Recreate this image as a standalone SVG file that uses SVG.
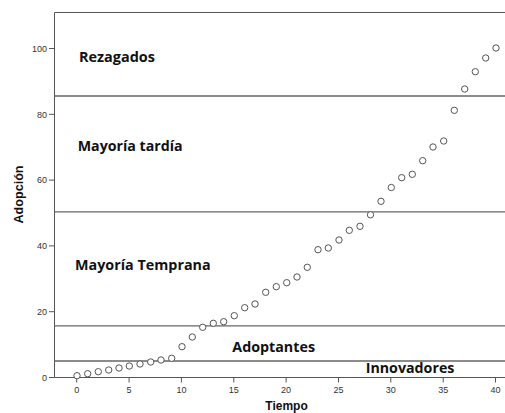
<svg xmlns="http://www.w3.org/2000/svg" width="505" height="413" viewBox="0 0 505 413">
<style>
.ax{stroke:#555;stroke-width:1;fill:none}
.band{stroke:#666;stroke-width:1.3;fill:none}
.tk{font-family:"Liberation Sans",Arial,sans-serif;font-size:9px;fill:#333}
.ttl{font-family:"Liberation Sans",Arial,sans-serif;font-size:12px;font-weight:bold;fill:#111}
.lbl{font-family:"Open Sans","Liberation Sans",sans-serif;font-size:14.8px;font-weight:bold;fill:#111}
.pt{fill:#fff;stroke:#555;stroke-width:1}
</style>
<rect x="0" y="0" width="505" height="413" fill="#fff"/>
<g id="axes">
<path class="ax" d="M54.5,12.5 H505 M54.5,12.5 V377.5 H505"/>
<path class="ax" d="M49,377.5H54.5 M49,311.7H54.5 M49,245.9H54.5 M49,180.1H54.5 M49,114.3H54.5 M49,48.5H54.5"/>
<path class="ax" d="M76.7,377.5V382.5 M129.1,377.5V382.5 M181.4,377.5V382.5 M233.8,377.5V382.5 M286.1,377.5V382.5 M338.5,377.5V382.5 M390.8,377.5V382.5 M443.2,377.5V382.5 M495.5,377.5V382.5"/>
<g class="tk" text-anchor="end">
<text x="47" y="380.7">0</text>
<text x="47" y="314.9">20</text>
<text x="47" y="249.1">40</text>
<text x="47" y="183.3">60</text>
<text x="47" y="117.5">80</text>
<text x="47" y="51.7">100</text>
</g>
<g class="tk" text-anchor="middle">
<text x="76.7" y="392.5">0</text>
<text x="129.1" y="392.5">5</text>
<text x="181.4" y="392.5">10</text>
<text x="233.8" y="392.5">15</text>
<text x="286.1" y="392.5">20</text>
<text x="338.5" y="392.5">25</text>
<text x="390.8" y="392.5">30</text>
<text x="443.2" y="392.5">35</text>
<text x="495.5" y="392.5">40</text>
</g>
<text class="ttl" x="286.5" y="410" text-anchor="middle">Tiempo</text>
<text class="ttl" transform="translate(23.2,194.5) rotate(-90)" text-anchor="middle" textLength="58" lengthAdjust="spacingAndGlyphs">Adopción</text>
</g>
<g id="connectors">
<path class="band" d="M54.5,96H505 M54.5,211.8H505 M54.5,325.8H505 M54.5,361H505"/>
</g>
<g id="rezagados"><text class="lbl" x="79" y="62.3" textLength="76" lengthAdjust="spacingAndGlyphs">Rezagados</text></g>
<g id="mayoria-tardia"><text class="lbl" x="77.7" y="150.7" textLength="105" lengthAdjust="spacingAndGlyphs">Mayoría tardía</text></g>
<g id="mayoria-temprana"><text class="lbl" x="75" y="270" textLength="135.7" lengthAdjust="spacingAndGlyphs">Mayoría Temprana</text></g>
<g id="adoptantes"><text class="lbl" x="232.3" y="352" textLength="82.7" lengthAdjust="spacingAndGlyphs">Adoptantes</text></g>
<g id="innovadores"><text class="lbl" x="365.7" y="373" textLength="88.7" lengthAdjust="spacingAndGlyphs">Innovadores</text></g>
<g id="points">
<circle class="pt" cx="77" cy="375.7" r="3.2"/>
<circle class="pt" cx="87.7" cy="373.7" r="3.2"/>
<circle class="pt" cx="98.3" cy="371.7" r="3.2"/>
<circle class="pt" cx="108.7" cy="370" r="3.2"/>
<circle class="pt" cx="119" cy="368" r="3.2"/>
<circle class="pt" cx="129.3" cy="366" r="3.2"/>
<circle class="pt" cx="140" cy="364" r="3.2"/>
<circle class="pt" cx="150.7" cy="362" r="3.2"/>
<circle class="pt" cx="161" cy="360" r="3.2"/>
<circle class="pt" cx="171.7" cy="358.3" r="3.2"/>
<circle class="pt" cx="182" cy="346.7" r="3.2"/>
<circle class="pt" cx="192.3" cy="337" r="3.2"/>
<circle class="pt" cx="202.7" cy="327.3" r="3.2"/>
<circle class="pt" cx="213.3" cy="323.3" r="3.2"/>
<circle class="pt" cx="223.7" cy="321.7" r="3.2"/>
<circle class="pt" cx="234.3" cy="315.7" r="3.2"/>
<circle class="pt" cx="244.7" cy="307.7" r="3.2"/>
<circle class="pt" cx="255" cy="304" r="3.2"/>
<circle class="pt" cx="265.7" cy="292.3" r="3.2"/>
<circle class="pt" cx="276.3" cy="286.7" r="3.2"/>
<circle class="pt" cx="286.7" cy="282.7" r="3.2"/>
<circle class="pt" cx="297" cy="277" r="3.2"/>
<circle class="pt" cx="307.3" cy="267.3" r="3.2"/>
<circle class="pt" cx="318" cy="249.7" r="3.2"/>
<circle class="pt" cx="328.3" cy="248" r="3.2"/>
<circle class="pt" cx="339" cy="240" r="3.2"/>
<circle class="pt" cx="349.3" cy="230.3" r="3.2"/>
<circle class="pt" cx="360" cy="226.3" r="3.2"/>
<circle class="pt" cx="370.5" cy="214.8" r="3.2"/>
<circle class="pt" cx="381" cy="201.3" r="3.2"/>
<circle class="pt" cx="391.3" cy="187.5" r="3.2"/>
<circle class="pt" cx="401.7" cy="177.7" r="3.2"/>
<circle class="pt" cx="412.3" cy="174.3" r="3.2"/>
<circle class="pt" cx="422.7" cy="160.7" r="3.2"/>
<circle class="pt" cx="433" cy="147" r="3.2"/>
<circle class="pt" cx="443.7" cy="141" r="3.2"/>
<circle class="pt" cx="454.3" cy="110.3" r="3.2"/>
<circle class="pt" cx="464.7" cy="89" r="3.2"/>
<circle class="pt" cx="475.3" cy="71.7" r="3.2"/>
<circle class="pt" cx="485.7" cy="58" r="3.2"/>
<circle class="pt" cx="496" cy="48" r="3.2"/>
</g>
</svg>
